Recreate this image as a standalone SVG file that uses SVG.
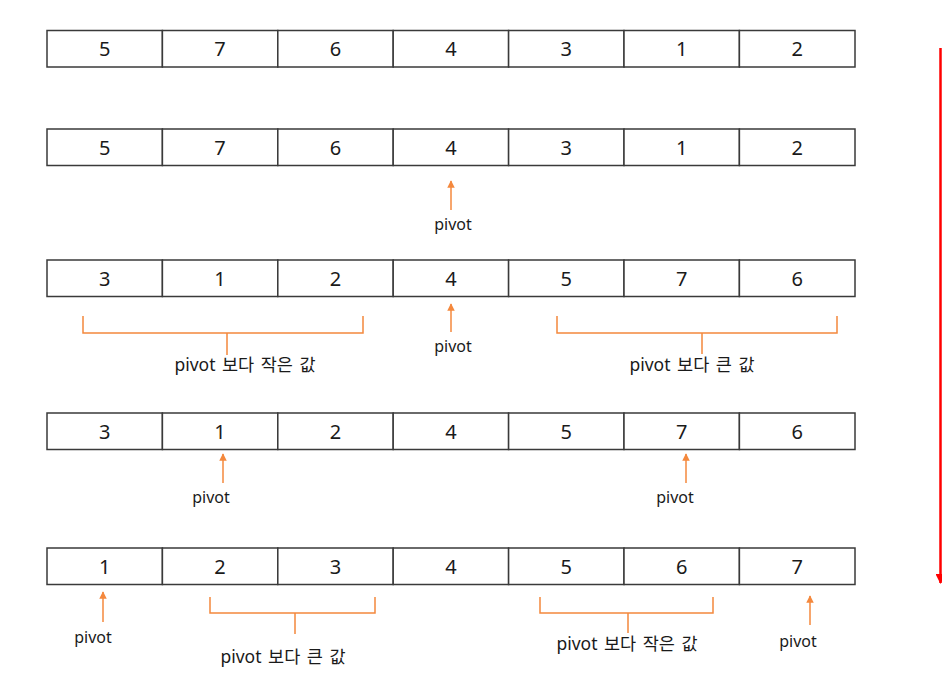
<svg xmlns="http://www.w3.org/2000/svg" width="942" height="679" viewBox="0 0 942 679">
<defs>
<style>
.cell{fill:#fff;stroke:#3a3a3a;stroke-width:1.5}
.num{font-family:"Noto Sans","Noto Sans CJK KR",sans-serif;font-size:20px;fill:#1a1a1a;text-anchor:middle}
.lbl{font-family:"Noto Sans","Noto Sans CJK KR",sans-serif;font-size:16px;fill:#1a1a1a;text-anchor:middle}
.kl{font-size:17.5px;word-spacing:2px}
.arr{stroke:#F4883D;stroke-width:1.5;fill:none;marker-end:url(#oa)}
.br{stroke:#F4883D;stroke-width:1.5;fill:none}
</style>
<marker id="oa" viewBox="0 0 10 10" refX="9" refY="5" markerWidth="5" markerHeight="5" orient="auto" markerUnits="strokeWidth">
<path d="M0,0 L10,5 L0,10 z" fill="#F4883D"/>
</marker>
<marker id="ra" viewBox="0 0 10 10" refX="9" refY="5" markerWidth="4" markerHeight="4" orient="auto" markerUnits="strokeWidth">
<path d="M0,0 L10,5 L0,10 z" fill="#FF0000"/>
</marker>
</defs>

<g id="row1">
<rect class="cell" x="47" y="30.5" width="115.4" height="36.5"/>
<rect class="cell" x="162.4" y="30.5" width="115.4" height="36.5"/>
<rect class="cell" x="277.8" y="30.5" width="115.4" height="36.5"/>
<rect class="cell" x="393.2" y="30.5" width="115.4" height="36.5"/>
<rect class="cell" x="508.6" y="30.5" width="115.4" height="36.5"/>
<rect class="cell" x="624" y="30.5" width="115.4" height="36.5"/>
<rect class="cell" x="739.4" y="30.5" width="115.6" height="36.5"/>
<text class="num" x="104.7" y="56">5</text>
<text class="num" x="220.1" y="56">7</text>
<text class="num" x="335.5" y="56">6</text>
<text class="num" x="450.9" y="56">4</text>
<text class="num" x="566.3" y="56">3</text>
<text class="num" x="681.7" y="56">1</text>
<text class="num" x="797.2" y="56">2</text>
</g>

<g id="row2">
<rect class="cell" x="47" y="129" width="115.4" height="36.5"/>
<rect class="cell" x="162.4" y="129" width="115.4" height="36.5"/>
<rect class="cell" x="277.8" y="129" width="115.4" height="36.5"/>
<rect class="cell" x="393.2" y="129" width="115.4" height="36.5"/>
<rect class="cell" x="508.6" y="129" width="115.4" height="36.5"/>
<rect class="cell" x="624" y="129" width="115.4" height="36.5"/>
<rect class="cell" x="739.4" y="129" width="115.6" height="36.5"/>
<text class="num" x="104.7" y="154.5">5</text>
<text class="num" x="220.1" y="154.5">7</text>
<text class="num" x="335.5" y="154.5">6</text>
<text class="num" x="450.9" y="154.5">4</text>
<text class="num" x="566.3" y="154.5">3</text>
<text class="num" x="681.7" y="154.5">1</text>
<text class="num" x="797.2" y="154.5">2</text>
</g>

<g id="row3">
<rect class="cell" x="47" y="260" width="115.4" height="36.5"/>
<rect class="cell" x="162.4" y="260" width="115.4" height="36.5"/>
<rect class="cell" x="277.8" y="260" width="115.4" height="36.5"/>
<rect class="cell" x="393.2" y="260" width="115.4" height="36.5"/>
<rect class="cell" x="508.6" y="260" width="115.4" height="36.5"/>
<rect class="cell" x="624" y="260" width="115.4" height="36.5"/>
<rect class="cell" x="739.4" y="260" width="115.6" height="36.5"/>
<text class="num" x="104.7" y="285.5">3</text>
<text class="num" x="220.1" y="285.5">1</text>
<text class="num" x="335.5" y="285.5">2</text>
<text class="num" x="450.9" y="285.5">4</text>
<text class="num" x="566.3" y="285.5">5</text>
<text class="num" x="681.7" y="285.5">7</text>
<text class="num" x="797.2" y="285.5">6</text>
</g>

<g id="row4">
<rect class="cell" x="47" y="413" width="115.4" height="36.5"/>
<rect class="cell" x="162.4" y="413" width="115.4" height="36.5"/>
<rect class="cell" x="277.8" y="413" width="115.4" height="36.5"/>
<rect class="cell" x="393.2" y="413" width="115.4" height="36.5"/>
<rect class="cell" x="508.6" y="413" width="115.4" height="36.5"/>
<rect class="cell" x="624" y="413" width="115.4" height="36.5"/>
<rect class="cell" x="739.4" y="413" width="115.6" height="36.5"/>
<text class="num" x="104.7" y="438.5">3</text>
<text class="num" x="220.1" y="438.5">1</text>
<text class="num" x="335.5" y="438.5">2</text>
<text class="num" x="450.9" y="438.5">4</text>
<text class="num" x="566.3" y="438.5">5</text>
<text class="num" x="681.7" y="438.5">7</text>
<text class="num" x="797.2" y="438.5">6</text>
</g>

<g id="row5">
<rect class="cell" x="47" y="548" width="115.4" height="36.5"/>
<rect class="cell" x="162.4" y="548" width="115.4" height="36.5"/>
<rect class="cell" x="277.8" y="548" width="115.4" height="36.5"/>
<rect class="cell" x="393.2" y="548" width="115.4" height="36.5"/>
<rect class="cell" x="508.6" y="548" width="115.4" height="36.5"/>
<rect class="cell" x="624" y="548" width="115.4" height="36.5"/>
<rect class="cell" x="739.4" y="548" width="115.6" height="36.5"/>
<text class="num" x="104.7" y="573.5">1</text>
<text class="num" x="220.1" y="573.5">2</text>
<text class="num" x="335.5" y="573.5">3</text>
<text class="num" x="450.9" y="573.5">4</text>
<text class="num" x="566.3" y="573.5">5</text>
<text class="num" x="681.7" y="573.5">6</text>
<text class="num" x="797.2" y="573.5">7</text>
</g>

<g id="connectors">
<line class="arr" x1="451" y1="210" x2="451" y2="181"/>
<line class="arr" x1="451" y1="332" x2="451" y2="304"/>
<line class="arr" x1="223" y1="483" x2="223" y2="454"/>
<line class="arr" x1="686" y1="483" x2="686" y2="454"/>
<line class="arr" x1="103" y1="622" x2="103" y2="592"/>
<line class="arr" x1="810" y1="625" x2="810" y2="596"/>
<path class="br" d="M83,316 V333 H363 V316 M227,333 V355"/>
<path class="br" d="M557,316 V333 H837 V316 M702,333 V354"/>
<path class="br" d="M210,597 V613 H375 V597 M295,613 V634"/>
<path class="br" d="M540,597 V613 H713 V597 M628,613 V633"/>
<line x1="940.5" y1="48" x2="940.5" y2="583" stroke="#FF0000" stroke-width="2.5" marker-end="url(#ra)"/>
</g>

<g id="labels">
<text class="lbl" x="453" y="230">pivot</text>
<text class="lbl" x="453" y="352">pivot</text>
<text class="lbl kl" x="245" y="371">pivot 보다 작은 값</text>
<text class="lbl kl" x="692" y="371">pivot 보다 큰 값</text>
<text class="lbl" x="211" y="503">pivot</text>
<text class="lbl" x="675" y="503">pivot</text>
<text class="lbl" x="93" y="643">pivot</text>
<text class="lbl kl" x="283" y="663">pivot 보다 큰 값</text>
<text class="lbl kl" x="627" y="650">pivot 보다 작은 값</text>
<text class="lbl" x="798" y="647">pivot</text>
</g>
</svg>
